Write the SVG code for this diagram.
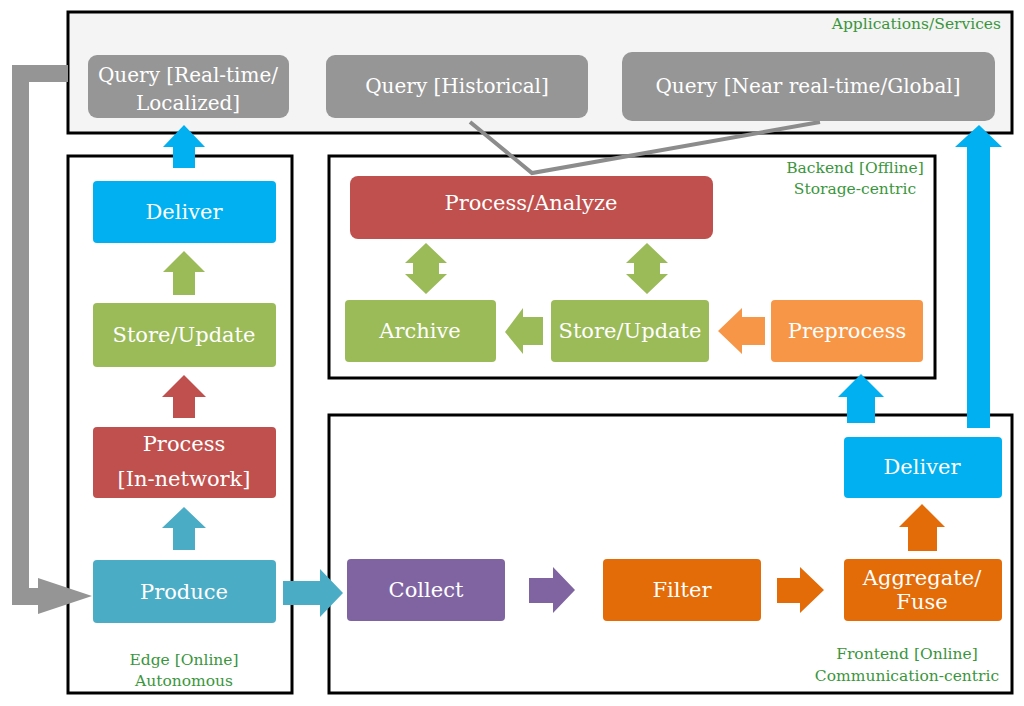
<svg xmlns="http://www.w3.org/2000/svg" width="1024" height="706" viewBox="0 0 1024 706">
<style>
.frame{fill:#ffffff;stroke:#000000;stroke-width:3}
.app{fill:#f4f4f4;stroke:#000000;stroke-width:3}
.q{fill:#969696}
.t{font-family:"DejaVu Serif","Liberation Serif",serif;fill:#ffffff;text-anchor:middle}
.qt{font-size:20px}
.nt{font-size:21px}
.lbl{font-family:"DejaVu Serif","Liberation Serif",serif;font-size:15.5px;fill:#3a963c;text-anchor:middle}
.blue{fill:#00b0f0}
.green{fill:#9bbb59}
.red{fill:#c0504d}
.teal{fill:#4bacc6}
.purple{fill:#8064a2}
.orange{fill:#e36c09}
.lorange{fill:#f79646}
.gray{fill:#959595}
</style>
<rect width="1024" height="706" fill="#ffffff"/>

<g id="applications">
<rect class="app" x="68" y="12" width="944" height="121"/>
<text class="lbl" x="1001" y="29" style="text-anchor:end">Applications/Services</text>
</g>
<g id="edge">
<rect class="frame" x="68" y="156" width="224" height="537"/>
<text class="lbl" x="184" y="665">Edge [Online]</text>
<text class="lbl" x="184" y="686">Autonomous</text>
</g>
<g id="backend">
<rect class="frame" x="329" y="156" width="606" height="222"/>
<text class="lbl" x="855" y="173">Backend [Offline]</text>
<text class="lbl" x="855" y="194">Storage-centric</text>
</g>
<g id="frontend">
<rect class="frame" x="329" y="415" width="683" height="278"/>
<text class="lbl" x="907" y="659">Frontend [Online]</text>
<text class="lbl" x="907" y="681">Communication-centric</text>
</g>

<g id="connectors">
<polyline points="470,122 532,173 820,122" fill="none" stroke="#8c8c8c" stroke-width="4"/>
<path d="M68,73.5 H20.5 V596.5 H42" fill="none" stroke="#959595" stroke-width="17"/>
<polygon class="gray" points="38,578 92,596 38,614"/>
<polygon class="blue" points="184,125 205,147 195,147 195,168 173,168 173,147 163,147"/>
<polygon class="green" points="184,251 205,272 195,272 195,295 173,295 173,272 163,272"/>
<polygon class="red" points="184,375 206,397 195,397 195,418 173,418 173,397 162,397"/>
<polygon class="teal" points="184,507 206,528 195,528 195,550 173,550 173,528 162,528"/>
<polygon class="teal" points="283,581 320,581 320,569 343,593 320,617 320,605 283,605"/>
<polygon class="purple" points="529,578 553,578 553,567 575,590 553,613 553,603 529,603"/>
<polygon class="orange" points="777,578 800,578 800,567 824,590 800,613 800,603 777,603"/>
<polygon class="orange" points="922,504 945,527 937,527 937,551 908,551 908,527 899,527"/>
<polygon class="blue" points="861,374 884,397 875,397 875,423 847,423 847,397 838,397"/>
<polygon class="blue" points="979,125 1002,147 990,147 990,428 967,428 967,147 955,147"/>
<polygon class="lorange" points="718,331 742,308 742,317 765,317 765,345 742,345 742,354"/>
<polygon class="green" points="505,332 523,308 523,317 543,317 543,345 523,345 523,354"/>
<polygon class="green" points="426,243 447,263 439,263 439,274 447,274 426,294 405,274 413,274 413,263 405,263"/>
<polygon class="green" points="647,243 668,263 660,263 660,274 668,274 647,294 626,274 634,274 634,263 626,263"/>
</g>

<g id="q-realtime">
<rect class="q" x="88" y="55" width="201" height="63" rx="9"/>
<text class="t qt" x="188" y="82">Query [Real-time/</text>
<text class="t qt" x="188" y="110">Localized]</text>
</g>
<g id="q-historical">
<rect class="q" x="326" y="55" width="262" height="63" rx="9"/>
<text class="t qt" x="457" y="93">Query [Historical]</text>
</g>
<g id="q-global">
<rect class="q" x="622" y="52" width="373" height="69" rx="10"/>
<text class="t qt" x="808" y="93">Query [Near real-time/Global]</text>
</g>

<g id="edge-deliver">
<rect class="blue" x="93" y="181" width="183" height="62" rx="4"/>
<text class="t nt" x="184" y="219">Deliver</text>
</g>
<g id="edge-store">
<rect class="green" x="93" y="303" width="183" height="64" rx="4"/>
<text class="t nt" x="184" y="342">Store/Update</text>
</g>
<g id="edge-process">
<rect class="red" x="93" y="427" width="183" height="71" rx="4"/>
<text class="t nt" x="184" y="451">Process</text>
<text class="t nt" x="184" y="486">[In-network]</text>
</g>
<g id="edge-produce">
<rect class="teal" x="93" y="560" width="183" height="63" rx="4"/>
<text class="t nt" x="184" y="599">Produce</text>
</g>

<g id="backend-process">
<rect class="red" x="350" y="176" width="363" height="63" rx="8"/>
<text class="t nt" x="531" y="210">Process/Analyze</text>
</g>
<g id="backend-archive">
<rect class="green" x="345" y="300" width="151" height="62" rx="4"/>
<text class="t nt" x="420" y="338">Archive</text>
</g>
<g id="backend-store">
<rect class="green" x="551" y="300" width="158" height="62" rx="4"/>
<text class="t nt" x="630" y="338">Store/Update</text>
</g>
<g id="backend-preprocess">
<rect class="lorange" x="771" y="300" width="152" height="62" rx="4"/>
<text class="t nt" x="847" y="338">Preprocess</text>
</g>

<g id="front-collect">
<rect class="purple" x="347" y="559" width="158" height="62" rx="4"/>
<text class="t nt" x="426" y="597">Collect</text>
</g>
<g id="front-filter">
<rect class="orange" x="603" y="559" width="158" height="62" rx="4"/>
<text class="t nt" x="682" y="597">Filter</text>
</g>
<g id="front-aggregate">
<rect class="orange" x="844" y="559" width="158" height="62" rx="4"/>
<text class="t nt" x="922" y="585">Aggregate/</text>
<text class="t nt" x="922" y="609">Fuse</text>
</g>
<g id="front-deliver">
<rect class="blue" x="844" y="437" width="158" height="61" rx="4"/>
<text class="t nt" x="922" y="474">Deliver</text>
</g>
</svg>
